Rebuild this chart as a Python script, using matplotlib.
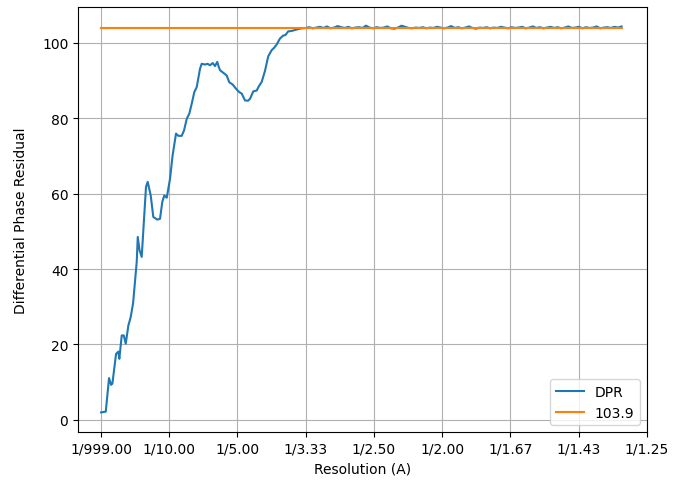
import numpy as np
import matplotlib
matplotlib.use("Agg")
import matplotlib.pyplot as plt

# spatial frequency (1/A) and differential phase residual, rising part
freq_rise = [0.0, 0.0069, 0.0117, 0.0147, 0.0166, 0.022, 0.0253, 0.0268, 0.0303, 0.0333,
             0.0362, 0.04, 0.0435, 0.047, 0.0496, 0.0523, 0.0538, 0.0564, 0.0596, 0.0659,
             0.0684, 0.0728, 0.0766, 0.0825, 0.0864, 0.0898, 0.0927, 0.0963, 0.1011, 0.1048,
             0.1099, 0.1133, 0.1182, 0.1216, 0.1256, 0.1294, 0.1329, 0.1367, 0.1402, 0.1451,
             0.1475, 0.1524, 0.1563, 0.1597, 0.1637, 0.167, 0.1704, 0.1725, 0.1744, 0.1792,
             0.1842, 0.188, 0.193, 0.1978, 0.2026, 0.2062, 0.211, 0.2154, 0.2183, 0.2232,
             0.2281, 0.2315, 0.2355, 0.2403, 0.2451, 0.2501, 0.2535, 0.2574, 0.2623, 0.2671,
             0.2703, 0.2744, 0.2794, 0.2868, 0.2941]
dpr_rise = [2.0, 2.2, 11.1, 9.3, 9.6, 17.5, 18.1, 16.2, 22.4, 22.4,
            20.2, 25.0, 27.3, 31.0, 36.5, 41.9, 48.5, 45.0, 43.2, 61.8,
            63.1, 59.5, 53.8, 53.1, 53.3, 57.8, 59.5, 58.9, 63.9, 70.0,
            75.9, 75.3, 75.3, 76.7, 79.8, 81.2, 83.8, 86.9, 88.2, 93.1,
            94.4, 94.2, 94.4, 94.0, 94.6, 93.8, 94.9, 93.6, 92.7, 92.0,
            91.3, 89.5, 88.9, 87.8, 86.9, 86.5, 84.7, 84.6, 85.1, 87.1,
            87.3, 88.5, 89.6, 92.5, 96.4, 98.0, 98.6, 99.5, 101.1, 101.9,
            102.0, 103.0, 103.1, 103.5, 103.8]

# plateau part
freq_flat = np.linspace(0.30, 0.763, 90)
dpr_flat = [103.9, 104.1, 103.8, 104.0, 104.2, 103.9, 104.3, 103.8, 104.0, 104.4,
            104.1, 103.9, 104.2, 103.8, 104.0, 104.1, 103.9, 104.5, 104.0, 103.8,
            104.1, 103.9, 104.0, 104.3, 103.8, 103.7, 104.0, 104.5, 104.2, 103.9,
            103.8, 104.0, 103.9, 104.1, 103.8, 104.0, 103.9, 104.2, 104.0, 103.8,
            104.0, 104.4, 103.9, 104.1, 103.8, 104.0, 104.3, 103.9, 103.7, 104.0,
            103.9, 104.1, 103.8, 104.0, 103.9, 104.2, 104.0, 103.8, 104.1, 103.9,
            104.0, 104.2, 103.8, 104.0, 104.3, 103.9, 104.1, 103.8, 104.0, 104.2,
            103.9, 104.1, 103.8, 104.0, 104.3, 103.9, 104.0, 104.2, 103.8, 104.1,
            103.9, 104.0, 104.3, 103.8, 104.0, 104.1, 103.9, 104.2, 104.0, 104.3]

freq = np.concatenate([freq_rise, freq_flat])
dpr = np.concatenate([dpr_rise, dpr_flat])
threshold = 103.9

tick_pos = [0.0, 0.1, 0.2, 0.3, 0.4, 0.5, 0.6, 0.7, 0.8]
tick_labels = ['1/999.00', '1/10.00', '1/5.00', '1/3.33', '1/2.50',
               '1/2.00', '1/1.67', '1/1.43', '1/1.25']

fig = plt.figure(figsize=(6.73, 4.89), dpi=100)
ax = fig.add_axes([0.116, 0.1145, 0.845, 0.8695])

ax.plot(freq, dpr, label='DPR')
ax.plot(freq, [threshold] * len(freq), label=str(threshold))
ax.set_xticks(tick_pos)
ax.set_xticklabels(tick_labels)
ax.set_xlim(-0.0337, 0.8)
ax.set_ylim(-3.2, 109.5)
ax.set_xlabel("Resolution (A)")
ax.set_ylabel("Differential Phase Residual", labelpad=10)
ax.grid(True)
ax.legend(loc='lower right')

plt.savefig("out.png", dpi=100)
